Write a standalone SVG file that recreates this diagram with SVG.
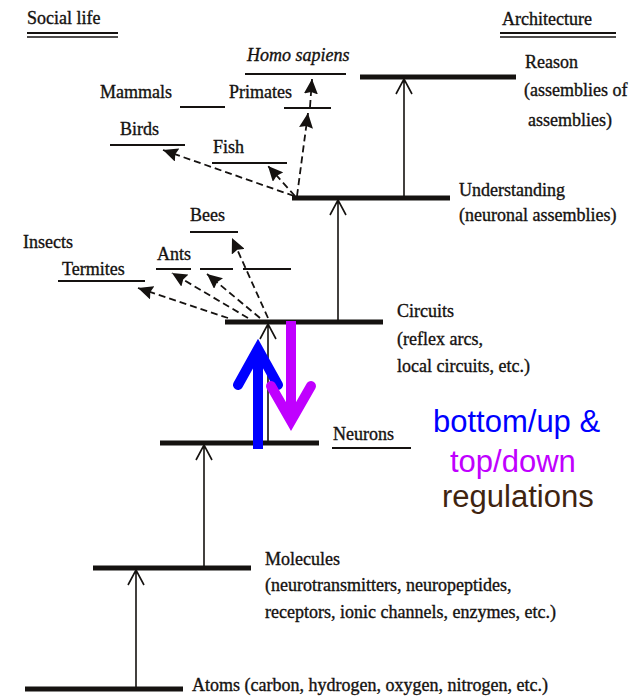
<svg xmlns="http://www.w3.org/2000/svg" width="642" height="696" viewBox="0 0 642 696">
<style>
.t{font-family:"Liberation Serif","Times New Roman",serif;font-size:18px;fill:#151210;stroke:#151210;stroke-width:0.35}
.i{font-style:italic}
.lvl{stroke:#151210;stroke-width:5;fill:none}
.sub{stroke:#151210;stroke-width:2;fill:none}
.up{stroke:#151210;stroke-width:1.6;fill:none}
.ds{stroke:#151210;stroke-width:1.8;fill:none;stroke-dasharray:7 4;marker-end:url(#ah)}
.big{font-family:"Liberation Sans",Arial,sans-serif;font-size:31px}
</style>
<defs>
<marker id="ah" markerWidth="16" markerHeight="14" refX="15" refY="7" orient="auto" markerUnits="userSpaceOnUse">
<path d="M0,0 L15,7 L0,14 L2,7 z" fill="#151210"/>
</marker>
</defs>
<rect width="642" height="696" fill="#fff"/>

<g id="header-social">
<text class="t" x="27" y="24">Social life</text>
<line class="sub" x1="27" y1="33" x2="118" y2="33"/>
<line x1="27" y1="37" x2="118" y2="37" stroke="#151210" stroke-width="1.3"/>
</g>
<g id="header-architecture">
<text class="t" x="502" y="25">Architecture</text>
<line class="sub" x1="500" y1="33" x2="616" y2="33"/>
<line x1="500" y1="37" x2="616" y2="37" stroke="#151210" stroke-width="1.3"/>
</g>

<g id="reason">
<line class="lvl" x1="360" y1="77" x2="516" y2="77"/>
<text class="t" x="525" y="68">Reason</text>
<text class="t" x="524" y="96">(assemblies of</text>
<text class="t" x="528" y="126">assemblies)</text>
</g>
<g id="understanding">
<line class="lvl" x1="292" y1="198" x2="450" y2="198"/>
<text class="t" x="459" y="196">Understanding</text>
<text class="t" x="459" y="221">(neuronal assemblies)</text>
</g>
<g id="circuits">
<line class="lvl" x1="225" y1="322" x2="383" y2="322"/>
<text class="t" x="397" y="317">Circuits</text>
<text class="t" x="397" y="345">(reflex arcs,</text>
<text class="t" x="397" y="372">local circuits, etc.)</text>
</g>
<g id="neurons">
<line class="lvl" x1="160" y1="443" x2="319" y2="443"/>
<text class="t" x="333" y="440">Neurons</text>
<line class="sub" x1="332" y1="448" x2="411" y2="448"/>
</g>
<g id="molecules">
<line class="lvl" x1="93" y1="568" x2="251" y2="568"/>
<text class="t" x="265" y="565">Molecules</text>
<text class="t" x="265" y="591">(neurotransmitters, neuropeptides,</text>
<text class="t" x="265" y="618">receptors, ionic channels, enzymes, etc.)</text>
</g>
<g id="atoms">
<line class="lvl" x1="25" y1="689" x2="183" y2="689"/>
<text class="t" x="192" y="691">Atoms (carbon, hydrogen, oxygen, nitrogen, etc.)</text>
</g>

<g id="homo-sapiens">
<text class="t i" x="247" y="61">Homo sapiens</text>
<line class="sub" x1="245" y1="74" x2="346" y2="74"/>
</g>
<g id="primates">
<text class="t" x="229" y="98">Primates</text>
<line class="sub" x1="284" y1="108" x2="331" y2="108"/>
</g>
<g id="mammals">
<text class="t" x="100" y="98">Mammals</text>
<line class="sub" x1="180" y1="107" x2="225" y2="107"/>
</g>
<g id="birds">
<text class="t" x="120" y="135">Birds</text>
<line class="sub" x1="110" y1="145" x2="185" y2="145"/>
</g>
<g id="fish">
<text class="t" x="213" y="153">Fish</text>
<line class="sub" x1="212" y1="163" x2="287" y2="163"/>
</g>
<g id="bees">
<text class="t" x="190" y="221">Bees</text>
<line class="sub" x1="190" y1="232" x2="238" y2="232"/>
</g>
<g id="insects">
<text class="t" x="23" y="248">Insects</text>
</g>
<g id="ants">
<text class="t" x="157" y="260">Ants</text>
<line class="sub" x1="156" y1="269" x2="191" y2="269"/>
</g>
<g id="insect-2">
<line class="sub" x1="200" y1="269" x2="233" y2="269"/>
</g>
<g id="insect-3">
<line class="sub" x1="243" y1="269" x2="291" y2="269"/>
</g>
<g id="termites">
<text class="t" x="62" y="275">Termites</text>
<line class="sub" x1="58" y1="281" x2="145" y2="281"/>
</g>

<g id="connectors">
<path class="up" d="M404,198 V79 M396,94 L404,79 L412,94"/>
<path class="up" d="M338,322 V200 M330,215 L338,200 L346,215"/>
<path class="up" d="M268,443 V324 M260,339 L268,324 L276,339"/>
<path class="up" d="M204,568 V445 M196,460 L204,445 L212,460"/>
<path class="up" d="M136,689 V570 M128,585 L136,570 L144,585"/>
<line class="ds" x1="294" y1="196" x2="163" y2="150"/>
<line class="ds" x1="295" y1="196" x2="268" y2="166"/>
<line class="ds" x1="297" y1="196" x2="308" y2="113"/>
<line class="ds" x1="310" y1="107" x2="312" y2="79"/>
<line class="ds" x1="228" y1="318" x2="138" y2="288"/>
<line class="ds" x1="248" y1="318" x2="172" y2="273"/>
<line class="ds" x1="260" y1="318" x2="207" y2="274"/>
<line class="ds" x1="268" y1="318" x2="232" y2="238"/>
<g id="bottom-up-arrow" fill="none" stroke="#0000FF" stroke-width="10">
<path d="M258,449 V352"/>
<path d="M238,385 L258,349 L278,385" stroke-linecap="round" stroke-linejoin="miter"/>
</g>
<g id="top-down-arrow" fill="none" stroke="#C000FF" stroke-width="10">
<path d="M291,321 V415"/>
<path d="M271,386 L291,421 L311,386" stroke-linecap="round" stroke-linejoin="miter"/>
</g>
</g>

<g id="regulation-label">
<text class="big" x="433" y="432" fill="#0000FF">bottom/up &amp;</text>
<text class="big" x="450" y="472" fill="#C000FF">top/down</text>
<text class="big" x="442" y="507" fill="#3F2410">regulations</text>
</g>
</svg>
